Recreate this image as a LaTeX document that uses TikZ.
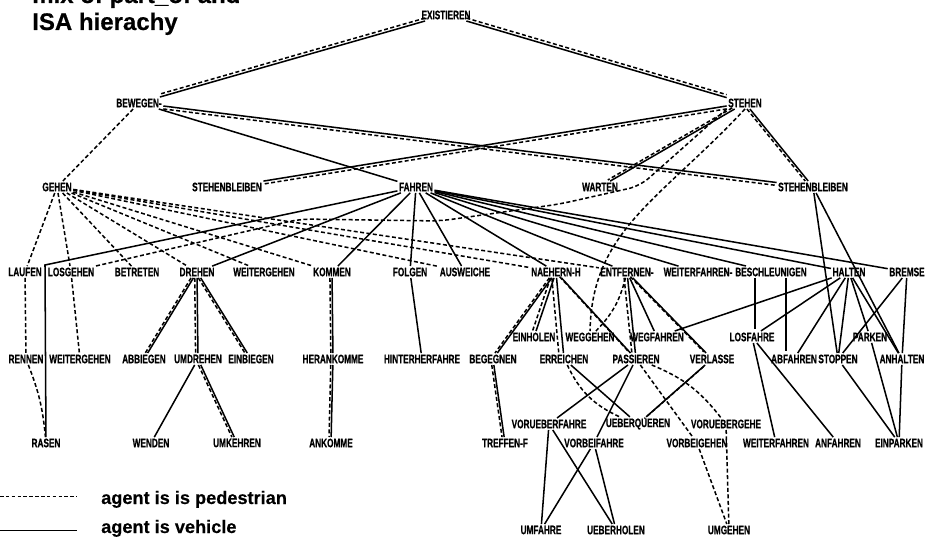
\documentclass[tikz,border=0pt]{standalone}
\usepackage{fontspec}
\newfontfamily\lblfont[FakeStretch=0.67, FakeBold=0.6]{Liberation Sans}
\newfontfamily\keyfont[FakeBold=0.4]{Liberation Sans}
\tikzset{
    lbl/.style={
        font=\lblfont\bfseries\fontsize{10.5}{12}\selectfont,
        inner sep=1.2pt
    },
    veh/.style={
        line width=1.3pt
    },
    ped/.style={
        line width=1.3pt,
        dash pattern=on 3.4pt off 2.1pt
    },
    off/.style={
        transform canvas={shift={(#1)}}
    },
    keytxt/.style={
        font=\keyfont\bfseries\fontsize{15.5}{18}\selectfont,
        inner sep=0pt,
        anchor=base west
    },
    titletxt/.style={
        font=\keyfont\bfseries\fontsize{20.5}{24}\selectfont,
        inner sep=0pt,
        anchor=base west
    }
}

\begin{document}
\begin{tikzpicture}[x=0.03cm, y=-0.03cm]
        \useasboundingbox (0,0) rectangle (925,538);

        % Title
        \node[titletxt] (titleA) at (32,3) {mix of part\_of and};
        \node[titletxt] (titleB) at (32,30) {ISA hierachy};

        % Top levels
        \node[lbl] (existieren) at (446,15) {EXISTIEREN};
        \node[lbl] (bewegen) at (139,103) {BEWEGEN-};
        \node[lbl] (stehen) at (745,103) {STEHEN};

        \node[lbl] (gehen) at (57,187) {GEHEN};
        \node[lbl] (bleibenL) at (227,187) {STEHENBLEIBEN};
        \node[lbl] (fahren) at (416,187) {FAHREN};
        \node[lbl] (warten) at (600,187) {WARTEN};
        \node[lbl] (bleibenR) at (813,187) {STEHENBLEIBEN};

        % Third row
        \node[lbl] (laufen) at (25,272) {LAUFEN};
        \node[lbl] (losgehen) at (71,272) {LOSGEHEN};
        \node[lbl] (betreten) at (137,272) {BETRETEN};
        \node[lbl] (drehen) at (197,272) {DREHEN};
        \node[lbl] (weitergehenA) at (264,272) {WEITERGEHEN};
        \node[lbl] (kommen) at (332,272) {KOMMEN};
        \node[lbl] (folgen) at (410,272) {FOLGEN};
        \node[lbl] (ausweichen) at (465,272) {AUSWEICHE};
        \node[lbl] (naehern) at (556,272) {NAEHERN-H};
        \node[lbl] (entfernen) at (627,272) {ENTFERNEN-};
        \node[lbl] (weiterfahrenA) at (698,272) {WEITERFAHREN-};
        \node[lbl] (beschleunigen) at (771,272) {BESCHLEUNIGEN};
        \node[lbl] (halten) at (849,272) {HALTEN};
        \node[lbl] (bremsen) at (907,272) {BREMSE};

        % Fourth row
        \node[lbl] (einholen) at (534,337) {EINHOLEN};
        \node[lbl] (weggehen) at (590,337) {WEGGEHEN};
        \node[lbl] (wegfahren) at (657,337) {WEGFAHREN};
        \node[lbl] (losfahren) at (752,337) {LOSFAHRE};
        \node[lbl] (parken) at (870,337) {PARKEN};

        \node[lbl] (rennen) at (26,359) {RENNEN};
        \node[lbl] (weitergehenB) at (80,359) {WEITERGEHEN};
        \node[lbl] (abbiegen) at (144,359) {ABBIEGEN};
        \node[lbl] (umdrehen) at (198,359) {UMDREHEN};
        \node[lbl] (einbiegen) at (251,359) {EINBIEGEN};
        \node[lbl] (herankommen) at (333,359) {HERANKOMME};
        \node[lbl] (hinterher) at (422,359) {HINTERHERFAHRE};
        \node[lbl] (begegnen) at (493,359) {BEGEGNEN};
        \node[lbl] (erreichen) at (564,359) {ERREICHEN};
        \node[lbl] (passieren) at (636,359) {PASSIEREN};
        \node[lbl] (verlassen) at (712,359) {VERLASSE};
        \node[lbl] (abfahren) at (794,359) {ABFAHREN};
        \node[lbl] (stoppen) at (838,359) {STOPPEN};
        \node[lbl] (anhalten) at (902,359) {ANHALTEN};

        % Fifth row
        \node[lbl] (vorueberfahren) at (549,424) {VORUEBERFAHRE};
        \node[lbl] (ueberqueren) at (638,424) {UEBERQUEREN};
        \node[lbl] (voruebergehen) at (726,424) {VORUEBERGEHE};

        \node[lbl] (rasen) at (46,443) {RASEN};
        \node[lbl] (wenden) at (151,443) {WENDEN};
        \node[lbl] (umkehren) at (237,443) {UMKEHREN};
        \node[lbl] (ankommen) at (331,443) {ANKOMME};
        \node[lbl] (treffen) at (505,443) {TREFFEN-F};
        \node[lbl] (vorbeifahren) at (594,443) {VORBEIFAHRE};
        \node[lbl] (vorbeigehen) at (697,443) {VORBEIGEHEN};
        \node[lbl] (weiterfahrenB) at (776,443) {WEITERFAHREN};
        \node[lbl] (anfahren) at (838,443) {ANFAHREN};
        \node[lbl] (einparken) at (899,443) {EINPARKEN};

        % Bottom row
        \node[lbl] (umfahren) at (541,530) {UMFAHRE};
        \node[lbl] (ueberholen) at (616,530) {UEBERHOLEN};
        \node[lbl] (umgehen) at (729,530) {UMGEHEN};

        \coordinate (rasenbend) at (45,265);
        \coordinate (abtop) at (786,351);
        \coordinate (lostop) at (755,329);

        % Upper links
        \draw[veh] (existieren) -- (bewegen);
        \draw[ped, off={0pt,2.5pt}] (existieren) -- (bewegen);
        \draw[veh] (existieren) -- (stehen);
        \draw[ped, off={0pt,2.5pt}] (existieren) -- (stehen);

        \draw[ped] (bewegen) -- (gehen);
        \draw[veh] (bewegen) -- (fahren);
        \draw[veh] (bewegen) -- (bleibenR);
        \draw[ped, off={0pt,-2.5pt}] (bewegen) -- (bleibenR);

        \draw[veh] (stehen) -- (bleibenL);
        \draw[ped, off={0pt,-2.5pt}] (stehen) -- (bleibenL);
        \draw[veh] (stehen) -- (warten);
        \draw[ped, off={-2pt,1pt}] (stehen) -- (warten);
        \draw[veh] (stehen) -- (bleibenR);
        \draw[ped, off={-2.5pt,0pt}] (stehen) -- (bleibenR);
        \draw[ped] (stehen.south) .. controls (660,200) and (592,230) .. (weggehen.north);
        \draw[ped, rounded corners=10pt] (stehen.south west) -- (640,186) -- (560,204)
            -- (440,221) -- (300,219) -- (losgehen.north east);

        % Walking
        \draw[ped] (gehen) -- (laufen);
        \draw[ped] (gehen) -- (losgehen);
        \draw[ped] (gehen) -- (betreten);
        \draw[ped] (gehen) -- (drehen);
        \draw[ped] (gehen) -- (weitergehenA);
        \draw[ped] (gehen) -- (kommen);
        \draw[ped] (gehen) -- (ausweichen);
        \draw[ped] (gehen) -- (naehern);
        \draw[ped] (gehen) -- (entfernen);

        % Driving
        \draw[veh] (fahren) -- (rasenbend) -- (rasen);
        \draw[veh] (fahren) -- (drehen);
        \draw[veh] (fahren) -- (kommen);
        \draw[veh] (fahren) -- (folgen);
        \draw[veh] (fahren) -- (ausweichen);
        \draw[veh] (fahren) -- (naehern);
        \draw[veh] (fahren) -- (entfernen);
        \draw[veh] (fahren) -- (weiterfahrenA);
        \draw[veh] (fahren) -- (beschleunigen);
        \draw[veh] (fahren) -- (halten);
        \draw[veh] (fahren) -- (bremsen);

        % Left subtrees
        \draw[ped] (laufen) -- (rennen);
        \draw[ped] (rennen) to[bend left=8] (rasen);
        \draw[ped] (losgehen) -- (weitergehenB);

        \draw[veh] (drehen) -- (abbiegen);
        \draw[ped, off={-2pt,0pt}] (drehen) -- (abbiegen);
        \draw[veh] (drehen) -- (umdrehen);
        \draw[ped, off={-2pt,0pt}] (drehen) -- (umdrehen);
        \draw[veh] (drehen) -- (einbiegen);
        \draw[ped, off={-2pt,0pt}] (drehen) -- (einbiegen);
        \draw[veh] (umdrehen) -- (wenden);
        \draw[veh] (umdrehen) -- (umkehren);
        \draw[ped, off={-2pt,0pt}] (umdrehen) -- (umkehren);

        \draw[veh] (kommen) -- (herankommen);
        \draw[ped, off={-1.8pt,0pt}] (kommen) -- (herankommen);
        \draw[veh] (herankommen) -- (ankommen);
        \draw[ped, off={-1.8pt,0pt}] (herankommen) -- (ankommen);
        \draw[veh] (folgen) -- (hinterher);

        % Approaching and leaving
        \draw[veh] (naehern) -- (begegnen);
        \draw[ped, off={-2pt,0pt}] (naehern) -- (begegnen);
        \draw[veh] (naehern) -- (einholen);
        \draw[ped, off={-3pt,0pt}] (naehern) -- (einholen);
        \draw[veh] (naehern) -- (erreichen);
        \draw[ped, off={-4pt,0pt}] (naehern) -- (erreichen);
        \draw[veh] (naehern) -- (passieren);
        \draw[ped, off={-1.5pt,1pt}] (naehern) -- (passieren);
        \draw[veh] (begegnen) -- (treffen);
        \draw[ped, off={-1.8pt,0pt}] (begegnen) -- (treffen);
        \draw[veh] (erreichen) -- (ueberqueren);
        \draw[ped] (erreichen) to[bend right=20] (ueberqueren);

        \draw[veh] (entfernen) -- (passieren);
        \draw[ped, off={-3pt,0pt}] (entfernen) -- (passieren);
        \draw[ped] (entfernen) to[bend left=15] (weggehen);
        \draw[veh] (entfernen) -- (wegfahren);
        \draw[veh] (entfernen) -- (verlassen);
        \draw[ped, off={-2pt,1pt}] (entfernen) -- (verlassen);

        \draw[veh] (passieren) -- (vorueberfahren);
        \draw[veh] (passieren) -- (vorbeifahren);
        \draw[ped] (passieren) -- (vorbeigehen);
        \draw[ped] (passieren) to[bend left=15] (voruebergehen);
        \draw[veh] (verlassen) -- (ueberqueren);
        \draw[ped, off={-1.5pt,-1.5pt}] (verlassen) -- (ueberqueren);

        \draw[veh] (vorueberfahren) -- (umfahren);
        \draw[veh] (vorueberfahren) -- (ueberholen);
        \draw[veh] (vorbeifahren) -- (umfahren);
        \draw[veh] (vorbeifahren) -- (ueberholen);
        \draw[ped] (vorbeigehen) -- (umgehen);
        \draw[ped] (voruebergehen) -- (umgehen);

        % Speed and stopping
        \draw[veh] (beschleunigen.south -| lostop) -- (lostop);
        \draw[veh] (beschleunigen.south -| abtop) -- (abtop);
        \draw[veh] (halten) -- (wegfahren);
        \draw[veh] (halten) -- (losfahren);
        \draw[veh] (halten) -- (abfahren);
        \draw[veh] (halten) -- (stoppen);
        \draw[veh] (halten) -- (parken);
        \draw[veh] (halten) -- (anhalten);
        \draw[veh] (bremsen) -- (stoppen);
        \draw[veh] (bremsen) -- (anhalten);
        \draw[veh] (bleibenR) -- (stoppen);
        \draw[veh] (bleibenR) -- (anhalten);
        \draw[veh] (losfahren) -- (weiterfahrenB);
        \draw[veh] (losfahren) -- (anfahren);
        \draw[veh] (stoppen) -- (einparken);
        \draw[veh] (parken) -- (einparken);
        \draw[veh] (anhalten) -- (einparken);

        % Legend
        \coordinate (pedA) at (0,496);
        \coordinate (pedB) at (77,496);
        \coordinate (vehA) at (0,530);
        \coordinate (vehB) at (77,530);
        \draw[line width=0.6pt, dash pattern=on 3pt off 2pt] (pedA) -- (pedB);
        \draw[line width=0.8pt] (vehA) -- (vehB);
        \node[keytxt] (pedkey) at (101,504) {agent is is pedestrian};
        \node[keytxt] (vehkey) at (101,533) {agent is vehicle};
    \end{tikzpicture}
\end{document}
